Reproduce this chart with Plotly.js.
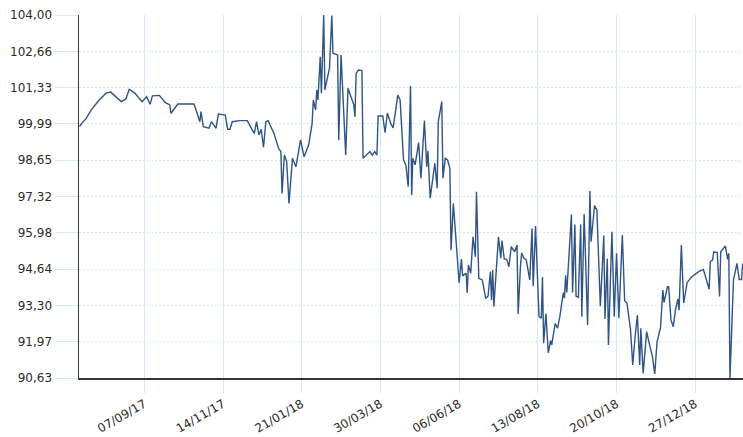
<!DOCTYPE html>
<html>
<head>
<meta charset="utf-8">
<script src="https://cdn.plot.ly/plotly-3.0.1.min.js"></script>
<style>html,body{margin:0;padding:0;background:#fff;}#chart{width:743px;height:437px;}</style>
</head>
<body>
<div id="chart"></div>
<script>
const dates = [
"2017-07-13","2017-07-15","2017-07-19","2017-07-23","2017-07-30","2017-08-05","2017-08-09","2017-08-14","2017-08-18","2017-08-22",
"2017-08-25","2017-08-30","2017-09-05","2017-09-09","2017-09-12","2017-09-14","2017-09-20","2017-09-25","2017-09-29","2017-09-30",
"2017-10-06","2017-10-20","2017-10-25","2017-10-26","2017-10-28","2017-11-02","2017-11-04","2017-11-08","2017-11-10","2017-11-16",
"2017-11-18","2017-11-20","2017-11-22","2017-11-28","2017-12-05","2017-12-09","2017-12-11","2017-12-13","2017-12-15","2017-12-17",
"2017-12-19","2017-12-21","2017-12-23","2017-12-28","2018-01-01","2018-01-03","2018-01-04","2018-01-06","2018-01-08","2018-01-10",
"2018-01-13","2018-01-16","2018-01-20","2018-01-23","2018-01-27","2018-01-30","2018-01-31","2018-02-02","2018-02-03","2018-02-04",
"2018-02-06","2018-02-07","2018-02-09","2018-02-10","2018-02-14","2018-02-16","2018-02-17","2018-02-21","2018-02-22","2018-02-24",
"2018-02-28","2018-03-02","2018-03-07","2018-03-08","2018-03-09","2018-03-11","2018-03-14","2018-03-15","2018-03-19","2018-03-21",
"2018-03-23","2018-03-25","2018-03-27","2018-03-28","2018-04-01","2018-04-03","2018-04-05","2018-04-08","2018-04-10","2018-04-14",
"2018-04-16","2018-04-19","2018-04-21","2018-04-23","2018-04-25","2018-04-26","2018-04-27","2018-04-29","2018-05-02","2018-05-04",
"2018-05-07","2018-05-09","2018-05-10","2018-05-12","2018-05-16","2018-05-18","2018-05-19","2018-05-22","2018-05-23","2018-05-25",
"2018-05-27","2018-05-29","2018-05-30","2018-06-01","2018-06-06","2018-06-08","2018-06-09","2018-06-12","2018-06-13","2018-06-14",
"2018-06-16","2018-06-18","2018-06-20","2018-06-21","2018-06-23","2018-06-26","2018-06-29","2018-07-01","2018-07-03","2018-07-04",
"2018-07-05","2018-07-06","2018-07-10","2018-07-12","2018-07-13","2018-07-15","2018-07-17","2018-07-19","2018-07-21","2018-07-24",
"2018-07-26","2018-07-27","2018-07-29","2018-07-30","2018-08-01","2018-08-03","2018-08-06","2018-08-08","2018-08-09","2018-08-11",
"2018-08-14","2018-08-16","2018-08-17","2018-08-18","2018-08-20","2018-08-22","2018-08-24","2018-08-25","2018-08-28","2018-08-30",
"2018-09-01","2018-09-04","2018-09-05","2018-09-06","2018-09-07","2018-09-11","2018-09-12","2018-09-14","2018-09-15","2018-09-17",
"2018-09-19","2018-09-20","2018-09-22","2018-09-25","2018-09-27","2018-09-28","2018-10-01","2018-10-03","2018-10-06","2018-10-09",
"2018-10-10","2018-10-12","2018-10-13","2018-10-16","2018-10-18","2018-10-20","2018-10-22","2018-10-25","2018-10-27","2018-10-29",
"2018-11-01","2018-11-02","2018-11-03","2018-11-05","2018-11-07","2018-11-09","2018-11-10","2018-11-12","2018-11-15","2018-11-18",
"2018-11-20","2018-11-22","2018-11-24","2018-11-27","2018-11-29","2018-11-30","2018-12-03","2018-12-04","2018-12-06","2018-12-08",
"2018-12-10","2018-12-12","2018-12-13","2018-12-15","2018-12-17","2018-12-20","2018-12-24","2018-12-30","2019-01-03","2019-01-08",
"2019-01-09","2019-01-11","2019-01-12","2019-01-15","2019-01-17","2019-01-18","2019-01-22","2019-01-24","2019-01-25","2019-01-26",
"2019-01-29","2019-02-01","2019-02-03","2019-02-05","2019-02-06"
];
const prices = [
99.89,100.01,100.20,100.50,100.87,101.12,101.16,100.97,100.81,100.90,
101.26,101.12,100.81,100.99,100.71,101.02,101.04,100.78,100.69,100.38,
100.72,100.72,100.07,100.44,99.89,99.83,100.07,99.83,100.35,100.31,
99.79,99.79,100.07,100.11,100.11,99.79,99.64,100.07,99.58,99.79,
99.13,100.07,100.11,99.64,99.09,98.97,97.43,98.84,98.60,97.06,
98.72,98.41,99.40,98.78,99.21,100.01,100.87,100.50,101.24,100.87,
102.46,101.12,104.00,101.24,102.04,103.98,102.59,102.53,99.40,102.53,
98.84,101.30,100.69,100.25,101.85,101.97,101.95,98.72,98.88,98.97,
98.84,98.97,98.84,100.28,100.28,99.67,100.39,99.99,99.84,101.05,
100.87,98.66,98.48,97.68,101.38,97.37,98.72,98.48,99.30,97.99,
100.11,98.41,99.00,97.25,98.54,97.62,100.07,100.81,97.99,98.72,
98.66,98.35,95.34,97.06,94.13,95.01,94.39,94.49,93.77,94.79,
94.49,95.83,95.10,97.49,94.30,94.24,93.56,93.65,94.55,93.50,
94.61,93.26,95.83,95.04,95.69,95.01,95.01,94.73,95.47,95.28,
95.53,92.99,94.76,95.23,95.04,94.98,94.24,96.14,94.02,96.23,
92.89,92.83,94.35,91.91,93.00,91.56,92.01,91.85,92.64,92.46,
92.89,93.77,93.57,94.41,93.78,96.65,93.78,96.28,93.65,93.60,
96.28,92.89,96.67,92.58,97.52,95.65,96.98,96.82,93.27,95.88,
92.80,95.02,91.85,96.02,92.89,95.22,92.84,95.90,93.47,93.39,
92.45,91.66,91.11,92.15,92.95,91.11,92.46,90.80,92.34,91.77,
91.42,90.78,91.96,92.49,93.87,93.41,93.99,93.99,92.77,92.52,
93.17,93.54,93.13,95.53,93.39,94.15,94.36,94.55,94.63,93.90,
94.91,94.98,95.28,95.25,93.63,95.28,95.49,95.00,95.22,90.63,
94.24,94.85,94.26,94.26,94.85
];
const yTickVals = [90.63,91.967,93.304,94.641,95.978,97.315,98.652,99.989,101.326,102.663,104.00];
const yTickText = ["90,63","91,97","93,30","94,64","95,98","97,32","98,65","99,99","101,33","102,66","104,00"];
const xTickVals = ["2017-09-07","2017-11-14","2018-01-21","2018-03-30","2018-06-06","2018-08-13","2018-10-20","2018-12-27"];
const xTickText = ["07/09/17","14/11/17","21/01/18","30/03/18","06/06/18","13/08/18","20/10/18","27/12/18"];

const grid = "#d7e6f8";
const fnt = {family: "DejaVu Sans, Verdana, sans-serif", size: 12, color: "#2b2b2b"};
Plotly.newPlot("chart", [{
  type: "scatter", mode: "lines", x: dates, y: prices,
  line: {color: "#2f5485", width: 1.4}, hoverinfo: "x+y"
}], {
  width: 743, height: 437,
  margin: {l: 79, r: 0, t: 15, b: 59, pad: 0},
  paper_bgcolor: "#fff", plot_bgcolor: "#fff",
  showlegend: false,
  font: fnt,
  xaxis: {
    type: "date", range: ["2017-07-12 14:00", "2019-02-06 06:00"],
    tickmode: "array", tickvals: xTickVals, ticktext: xTickText, tickangle: -30,
    showgrid: true, gridcolor: grid, gridwidth: 1,
    ticks: "outside", ticklen: 13, tickcolor: grid, tickwidth: 1,
    showline: true, linecolor: "#333", linewidth: 1.5,
    zeroline: false, automargin: false, tickfont: fnt
  },
  yaxis: {
    range: [90.63, 104.00], tickmode: "array", tickvals: yTickVals, ticktext: yTickText,
    showgrid: true, gridcolor: grid, gridwidth: 1, griddash: "2px,2px",
    ticks: "outside", ticklen: 23, tickcolor: grid, tickwidth: 1,
    showline: true, linecolor: "#333", linewidth: 1.5,
    zeroline: false, automargin: false, tickfont: fnt
  }
}, {displayModeBar: false, staticPlot: true});
</script>
</body>
</html>
